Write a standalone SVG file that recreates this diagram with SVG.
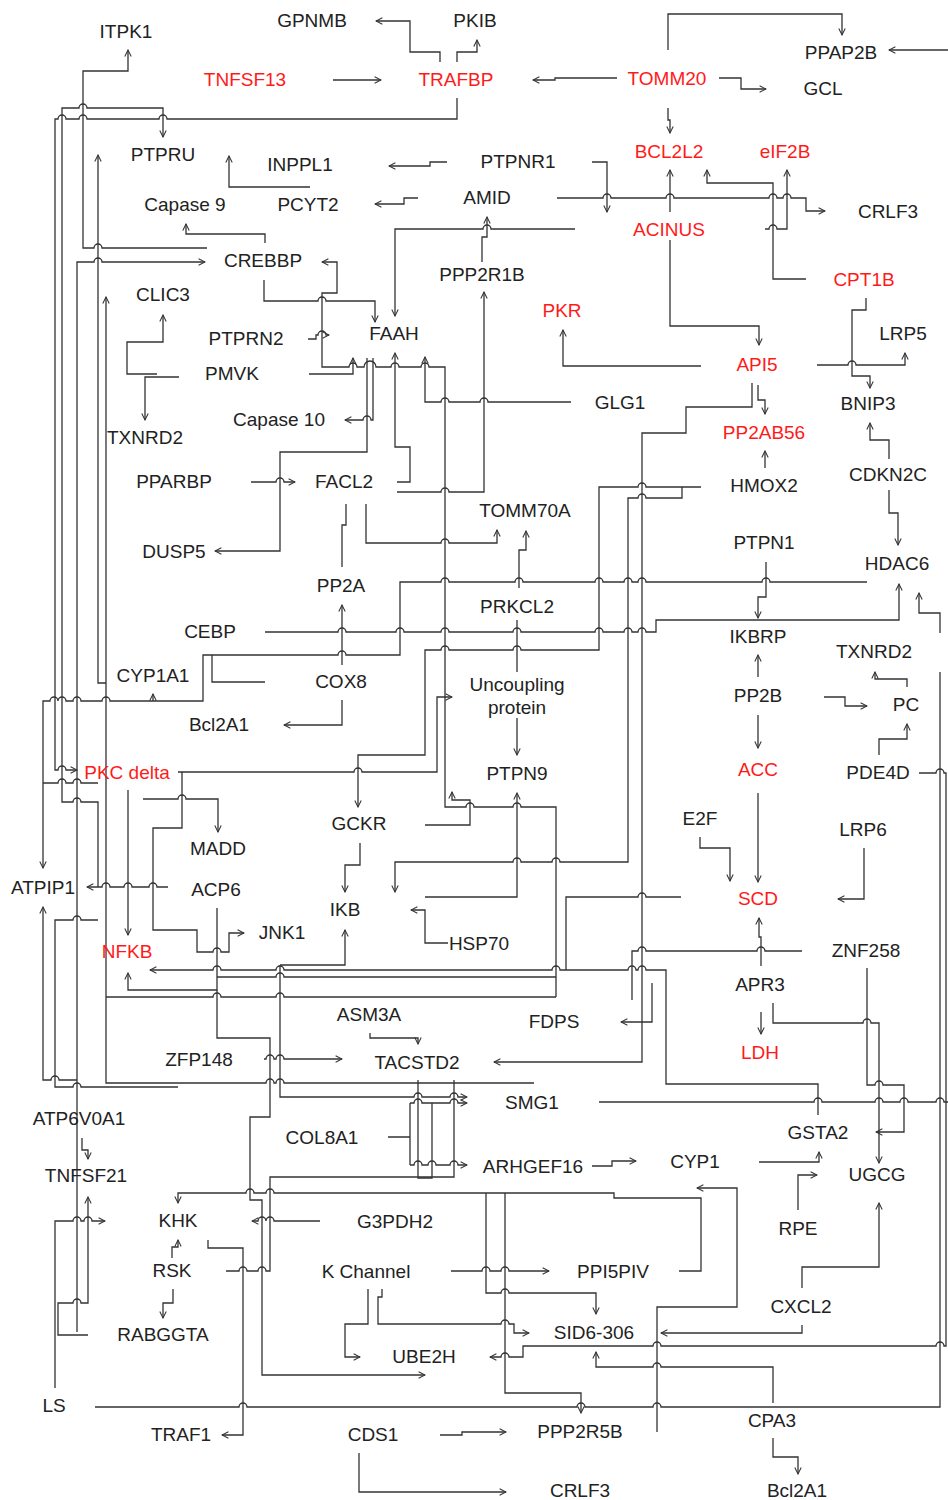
<svg xmlns="http://www.w3.org/2000/svg" width="948" height="1500" viewBox="0 0 948 1500">
<style>
text{font-family:"Liberation Sans",Arial,sans-serif;font-size:19px;fill:#222;text-anchor:middle}
text.r{fill:#ff1a1a}
#edges path{fill:none;stroke:#333;stroke-width:1.3}
#edges path.a{marker-end:url(#arr)}
</style>
<defs>
<marker id="arr" viewBox="0 0 10 10" refX="9" refY="5" markerWidth="8" markerHeight="8" markerUnits="userSpaceOnUse" orient="auto">
<path d="M1,1 L9,5 L1,9" fill="none" stroke="#333" stroke-width="1.3"/>
</marker>
</defs>
<rect width="948" height="1500" fill="#fff"/>
<g id="edges">
<path class="a" d="M440,62 V52 H410 V21 H376"/>
<path class="a" d="M457,62 V52 H477 V40"/>
<path class="a" d="M333,80 H381"/>
<path class="a" d="M617,78 H555 V80 H533"/>
<path class="a" d="M719,78 H741 V89 H766"/>
<path class="a" d="M668,50 V14 H842 V35"/>
<path class="a" d="M948,50 H889"/>
<path class="a" d="M668,108 V120 H670 V133"/>
<path class="a" d="M457,98 V119 H167 a4,4 0 0 0 -8,0 H87 a4,4 0 0 0 -8,0 H66 a4,4 0 0 0 -8,0 H55 V770 H58 a4,4 0 0 1 8,0 H77"/>
<path class="a" d="M98,887 V802 H81 a4,4 0 0 0 -8,0 H62 V108 H79 a4,4 0 0 1 8,0 H163 V137"/>
<path class="a" d="M207,248 H102 a4,4 0 0 0 -8,0 H83 V71 H128 V50"/>
<path class="a" d="M534,1083 H284 a4,4 0 0 0 -8,0 H274 a4,4 0 0 0 -8,0 H106 V297"/>
<path class="a" d="M106,683 H98 V155"/>
<path class="a" d="M77,1332 V262 H94 a4,4 0 0 1 8,0 H205"/>
<path class="a" d="M265,243 V234 H186 V224"/>
<path class="a" d="M310,187 H229 V156"/>
<path class="a" d="M447,162 H430 V166 H389"/>
<path class="a" d="M418,198 H404 V204 H375"/>
<path class="a" d="M575,229 H491 a4,4 0 0 0 -8,0 H395 V316"/>
<path class="a" d="M482,262 V237 H487 V217"/>
<path class="a" d="M397,492 H441 a4,4 0 0 1 8,0 H484 V292"/>
<path class="a" d="M592,162 H607 V212"/>
<path class="a" d="M557,198 H603 a4,4 0 0 1 8,0 H666 a4,4 0 0 1 8,0 H769 a4,4 0 0 1 8,0 H783 a4,4 0 0 1 8,0 H806 V211 H825"/>
<path class="a" d="M670,212 V170"/>
<path class="a" d="M765,229 H769 a4,4 0 0 1 8,0 H787 V170"/>
<path class="a" d="M806,279 H773 V183 H707 V170"/>
<path class="a" d="M670,240 V326 H759 V345"/>
<path class="a" d="M701,366 H563 V330"/>
<path class="a" d="M817,365 H848 a4,4 0 0 1 8,0 H905 V353"/>
<path class="a" d="M866,298 V310 H852 V376 H870 V388"/>
<path class="a" d="M889,459 V440 H870 V423"/>
<path class="a" d="M758,385 V400 H765 V414"/>
<path class="a" d="M752,383 V407 H686 V433 H642 V1062 H494"/>
<path class="a" d="M765,468 V451"/>
<path class="a" d="M889,490 V513 H898 V545"/>
<path class="a" d="M867,582 H770 a4,4 0 0 0 -8,0 H646 a4,4 0 0 0 -8,0 H632 a4,4 0 0 0 -8,0 H603 a4,4 0 0 0 -8,0 H523 a4,4 0 0 0 -8,0 H449 a4,4 0 0 0 -8,0 H400 V655 H346 a4,4 0 0 0 -8,0 H203 V701 H110 a4,4 0 0 0 -8,0 H81 a4,4 0 0 0 -8,0 H66 a4,4 0 0 0 -8,0 a4,4 0 0 0 -8,0 H43 V868"/>
<path class="a" d="M153,701 V694"/>
<path class="a" d="M265,632 H338 a4,4 0 0 1 8,0 H396 a4,4 0 0 1 8,0 H441 a4,4 0 0 1 8,0 H513 a4,4 0 0 1 8,0 H595 a4,4 0 0 1 8,0 H624 a4,4 0 0 1 8,0 H638 a4,4 0 0 1 8,0 H656 V620 H899 V584"/>
<path class="a" d="M342,665 V605"/>
<path d="M342,567 V525 H346 V504"/>
<path class="a" d="M366,504 V543 H441 a4,4 0 0 1 8,0 H497 V530"/>
<path class="a" d="M519,588 V550 H526 V531"/>
<path d="M265,682 H212 V655"/>
<path class="a" d="M342,700 V725 H284"/>
<path class="a" d="M701,487 H646 a4,4 0 0 0 -8,0 H599 V650 H521 a4,4 0 0 0 -8,0 H449 a4,4 0 0 0 -8,0 H425 V755 H358 V807"/>
<path class="a" d="M178,772 H354 a4,4 0 0 1 8,0 H437 V697 H452"/>
<path class="a" d="M143,799 H178 a4,4 0 0 1 8,0 H218 V832"/>
<path class="a" d="M128,790 V935"/>
<path class="a" d="M182,772 V828 H153 V930 H197 V952 H213 a4,4 0 0 1 8,0 H229 V933 H244"/>
<path class="a" d="M556,997 V807 H521 a4,4 0 0 0 -8,0 H474 a4,4 0 0 0 -8,0 H445 V367 H429 a4,4 0 0 0 -8,0 H399 a4,4 0 0 0 -8,0 H376 a6,6 0 0 0 -12,0 H357 a4,4 0 0 0 -8,0 H322 V293 H337 V262 H322"/>
<path class="a" d="M264,280 V301 H318 a4,4 0 0 1 8,0 H375 V322"/>
<path class="a" d="M308,339 H316 V335 H318 a4,4 0 0 1 8,0 H329"/>
<path class="a" d="M309,374 H353 V358"/>
<path class="a" d="M367,358 V452 H280 V551 H215"/>
<path class="a" d="M373,358 V420 H371 a4,4 0 0 0 -8,0 H345"/>
<path class="a" d="M397,482 H410 V447 H395 V353"/>
<path class="a" d="M571,402 H488 a4,4 0 0 0 -8,0 H449 a4,4 0 0 0 -8,0 H425 V357"/>
<path class="a" d="M251,482 H276 a4,4 0 0 1 8,0 H295"/>
<path class="a" d="M157,374 H127 V342 H163 V315"/>
<path class="a" d="M179,377 H145 V420"/>
<path class="a" d="M766,562 V597 H758 V618"/>
<path class="a" d="M758,677 V655"/>
<path class="a" d="M758,715 V748"/>
<path class="a" d="M824,697 H845 V706 H867"/>
<path class="a" d="M907,687 V679 H875 V672"/>
<path class="a" d="M879,755 V739 H907 V724"/>
<path class="a" d="M940,633 V613 H919 V593"/>
<path class="a" d="M517,620 V672 M517,718 V755"/>
<path class="a" d="M682,487 V498 H646 a4,4 0 0 0 -8,0 H628 V862 H560 a4,4 0 0 0 -8,0 H521 a4,4 0 0 0 -8,0 H395 V892"/>
<path class="a" d="M700,837 V848 H730 V881"/>
<path class="a" d="M758,793 V882"/>
<path class="a" d="M864,848 V899 H838"/>
<path class="a" d="M761,966 V937 H759 V918"/>
<path d="M802,951 H765 a4,4 0 0 0 -8,0 H646 a4,4 0 0 0 -8,0 H632 V1000"/>
<path d="M681,897 H646 a4,4 0 0 0 -8,0 H566 V970"/>
<path class="a" d="M919,773 H936 a4,4 0 0 1 8,0 H946 V1346 H944 a4,4 0 0 0 -8,0 H661 a4,4 0 0 0 -8,0 H523 V1357 H509 a4,4 0 0 0 -8,0 H490"/>
<path class="a" d="M425,825 H470 V800 H452 V792"/>
<path class="a" d="M360,843 V865 H345 V892"/>
<path class="a" d="M280,965 H345 V930"/>
<path class="a" d="M280,965 V1097 H414 a4,4 0 0 1 8,0 H450 a4,4 0 0 1 8,0 H467"/>
<path class="a" d="M448,943 H425 V910 H411"/>
<path class="a" d="M425,897 H517 V793"/>
<path class="a" d="M818,1115 V1084 H666 V970 H646 a4,4 0 0 0 -8,0 H636 a4,4 0 0 0 -8,0 H560 a4,4 0 0 0 -8,0 H284 a4,4 0 0 0 -8,0 H221 a4,4 0 0 0 -8,0 H150"/>
<path d="M217,977 H276 a4,4 0 0 1 8,0 H556"/>
<path d="M106,997 H213 a4,4 0 0 1 8,0 H276 a4,4 0 0 1 8,0 H556"/>
<path class="a" d="M217,908 V990 H128 V973"/>
<path class="a" d="M217,990 V1038 H270 V1117 H250 V1200 H262 V1375 H425"/>
<path d="M226,1271 H239 a4,4 0 0 1 8,0 H258 a4,4 0 0 1 8,0 H270 V1177 H454 V1080"/>
<path class="a" d="M208,1240 V1248 H243 V1435 H222"/>
<path class="a" d="M173,1289 V1303 H163 V1318"/>
<path class="a" d="M172,1258 V1247 H178 V1240"/>
<path class="a" d="M320,1221 H274 a4,4 0 0 0 -8,0 a4,4 0 0 0 -8,0 H252"/>
<path d="M95,1407 H239 a4,4 0 0 1 8,0 H577 a4,4 0 0 1 8,0 H653 a4,4 0 0 1 8,0 H940 V672"/>
<path class="a" d="M55,1388 V1221 H73 a4,4 0 0 1 8,0 H84 a4,4 0 0 1 8,0 H105"/>
<path class="a" d="M88,1335 H58 V1303 H73 a4,4 0 0 1 8,0 H88 V1197"/>
<path class="a" d="M82,1138 V1150 H88 V1159"/>
<path class="a" d="M77,1080 H59 a4,4 0 0 0 -8,0 H43 V907"/>
<path class="a" d="M368,1289 V1324 H345 V1357 H360"/>
<path class="a" d="M382,1289 V1297 H378 V1324 H501 a4,4 0 0 1 8,0 H514 V1333 H529"/>
<path class="a" d="M451,1271 H482 a4,4 0 0 1 8,0 H501 a4,4 0 0 1 8,0 H549"/>
<path class="a" d="M440,1435 H462 V1432 H506"/>
<path class="a" d="M359,1453 V1492 H506"/>
<path class="a" d="M486,1193 V1293 H501 a4,4 0 0 1 8,0 H596 V1314"/>
<path class="a" d="M505,1193 V1393 H581 V1413"/>
<path class="a" d="M679,1271 H701 V1198 H614 V1193 H274 a4,4 0 0 0 -8,0 H254 a4,4 0 0 0 -8,0 H178 V1203"/>
<path class="a" d="M657,1432 V1307 H737 V1188 H697"/>
<path class="a" d="M802,1325 V1333 H661"/>
<path class="a" d="M802,1288 V1267 H879 V1203"/>
<path class="a" d="M773,1403 V1367 H661 a4,4 0 0 0 -8,0 H596 V1352"/>
<path class="a" d="M773,1438 V1457 H798 V1474"/>
<path class="a" d="M652,983 V1022 H621"/>
<path class="a" d="M761,1012 V1034"/>
<path class="a" d="M773,1003 V1023 H863 a4,4 0 0 1 8,0 H879 V1163"/>
<path class="a" d="M867,968 V1085 H875 a4,4 0 0 1 8,0 H904 V1132 H876"/>
<path d="M599,1102 H814 a4,4 0 0 1 8,0 H875 a4,4 0 0 1 8,0 H900 a4,4 0 0 1 8,0 H936 a4,4 0 0 1 8,0 H948"/>
<path class="a" d="M759,1162 H819 V1152"/>
<path class="a" d="M592,1166 H612 V1161 H636"/>
<path class="a" d="M798,1210 V1175 H817"/>
<path class="a" d="M264,1059 H266 a4,4 0 0 1 8,0 H276 a4,4 0 0 1 8,0 H342"/>
<path class="a" d="M370,1033 V1038 H418 V1044"/>
<path d="M388,1137 H410 M410,1103 V1165 M418,1080 V1178 H432 V1103"/>
<path class="a" d="M410,1103 H414 a4,4 0 0 1 8,0 H450 a4,4 0 0 1 8,0 H467"/>
<path class="a" d="M410,1165 H414 a4,4 0 0 1 8,0 H428 a4,4 0 0 1 8,0 H450 a4,4 0 0 1 8,0 H467"/>
<path d="M43,783 H58 a4,4 0 0 1 8,0 H73 a4,4 0 0 1 8,0 H98"/>
<path class="a" d="M168,887 H157 a4,4 0 0 0 -8,0 H132 a4,4 0 0 0 -8,0 H110 a4,4 0 0 0 -8,0 H87"/>
<path d="M98,920 H81 a4,4 0 0 0 -8,0 H55 V1087 H73 a4,4 0 0 1 8,0 H178"/>
</g>
<g id="nodes">
<g id="n_ITPK1"><text x="126" y="38">ITPK1</text></g>
<g id="n_GPNMB"><text x="312" y="27">GPNMB</text></g>
<g id="n_PKIB"><text x="475" y="27">PKIB</text></g>
<g id="n_TNFSF13"><text class="r" x="245" y="86">TNFSF13</text></g>
<g id="n_TRAFBP"><text class="r" x="456" y="86">TRAFBP</text></g>
<g id="n_TOMM20"><text class="r" x="667" y="85">TOMM20</text></g>
<g id="n_PPAP2B"><text x="841" y="59">PPAP2B</text></g>
<g id="n_GCL"><text x="823" y="95">GCL</text></g>
<g id="n_PTPRU"><text x="163" y="161">PTPRU</text></g>
<g id="n_INPPL1"><text x="300" y="171">INPPL1</text></g>
<g id="n_PTPNR1"><text x="518" y="168">PTPNR1</text></g>
<g id="n_BCL2L2"><text class="r" x="669" y="158">BCL2L2</text></g>
<g id="n_eIF2B"><text class="r" x="785" y="158">eIF2B</text></g>
<g id="n_Capase9"><text x="185" y="211">Capase 9</text></g>
<g id="n_PCYT2"><text x="308" y="211">PCYT2</text></g>
<g id="n_AMID"><text x="487" y="204">AMID</text></g>
<g id="n_CRLF3a"><text x="888" y="218">CRLF3</text></g>
<g id="n_ACINUS"><text class="r" x="669" y="236">ACINUS</text></g>
<g id="n_CREBBP"><text x="263" y="267">CREBBP</text></g>
<g id="n_PPP2R1B"><text x="482" y="281">PPP2R1B</text></g>
<g id="n_CPT1B"><text class="r" x="864" y="286">CPT1B</text></g>
<g id="n_CLIC3"><text x="163" y="301">CLIC3</text></g>
<g id="n_PKR"><text class="r" x="562" y="317">PKR</text></g>
<g id="n_PTPRN2"><text x="246" y="345">PTPRN2</text></g>
<g id="n_FAAH"><text x="394" y="340">FAAH</text></g>
<g id="n_LRP5"><text x="903" y="340">LRP5</text></g>
<g id="n_API5"><text class="r" x="757" y="371">API5</text></g>
<g id="n_PMVK"><text x="232" y="380">PMVK</text></g>
<g id="n_BNIP3"><text x="868" y="410">BNIP3</text></g>
<g id="n_GLG1"><text x="620" y="409">GLG1</text></g>
<g id="n_Capase10"><text x="279" y="426">Capase 10</text></g>
<g id="n_TXNRD2a"><text x="145" y="444">TXNRD2</text></g>
<g id="n_PP2AB56"><text class="r" x="764" y="439">PP2AB56</text></g>
<g id="n_PPARBP"><text x="174" y="488">PPARBP</text></g>
<g id="n_FACL2"><text x="344" y="488">FACL2</text></g>
<g id="n_HMOX2"><text x="764" y="492">HMOX2</text></g>
<g id="n_CDKN2C"><text x="888" y="481">CDKN2C</text></g>
<g id="n_TOMM70A"><text x="525" y="517">TOMM70A</text></g>
<g id="n_PTPN1"><text x="764" y="549">PTPN1</text></g>
<g id="n_DUSP5"><text x="174" y="558">DUSP5</text></g>
<g id="n_HDAC6"><text x="897" y="570">HDAC6</text></g>
<g id="n_PP2A"><text x="341" y="592">PP2A</text></g>
<g id="n_PRKCL2"><text x="517" y="613">PRKCL2</text></g>
<g id="n_CEBP"><text x="210" y="638">CEBP</text></g>
<g id="n_IKBRP"><text x="758" y="643">IKBRP</text></g>
<g id="n_TXNRD2b"><text x="874" y="658">TXNRD2</text></g>
<g id="n_CYP1A1"><text x="153" y="682">CYP1A1</text></g>
<g id="n_COX8"><text x="341" y="688">COX8</text></g>
<g id="n_Uncoupling"><text x="517" y="691">Uncoupling</text><text x="517" y="714">protein</text></g>
<g id="n_PP2B"><text x="758" y="702">PP2B</text></g>
<g id="n_PC"><text x="906" y="711">PC</text></g>
<g id="n_Bcl2A1a"><text x="219" y="731">Bcl2A1</text></g>
<g id="n_PKCdelta"><text class="r" x="127" y="779">PKC delta</text></g>
<g id="n_PTPN9"><text x="517" y="780">PTPN9</text></g>
<g id="n_ACC"><text class="r" x="758" y="776">ACC</text></g>
<g id="n_PDE4D"><text x="878" y="779">PDE4D</text></g>
<g id="n_GCKR"><text x="359" y="830">GCKR</text></g>
<g id="n_E2F"><text x="700" y="825">E2F</text></g>
<g id="n_LRP6"><text x="863" y="836">LRP6</text></g>
<g id="n_MADD"><text x="218" y="855">MADD</text></g>
<g id="n_ATPIP1"><text x="43" y="894">ATPIP1</text></g>
<g id="n_ACP6"><text x="216" y="896">ACP6</text></g>
<g id="n_IKB"><text x="345" y="916">IKB</text></g>
<g id="n_SCD"><text class="r" x="758" y="905">SCD</text></g>
<g id="n_JNK1"><text x="282" y="939">JNK1</text></g>
<g id="n_HSP70"><text x="479" y="950">HSP70</text></g>
<g id="n_NFKB"><text class="r" x="127" y="958">NFKB</text></g>
<g id="n_ZNF258"><text x="866" y="957">ZNF258</text></g>
<g id="n_APR3"><text x="760" y="991">APR3</text></g>
<g id="n_ASM3A"><text x="369" y="1021">ASM3A</text></g>
<g id="n_FDPS"><text x="554" y="1028">FDPS</text></g>
<g id="n_LDH"><text class="r" x="760" y="1059">LDH</text></g>
<g id="n_ZFP148"><text x="199" y="1066">ZFP148</text></g>
<g id="n_TACSTD2"><text x="417" y="1069">TACSTD2</text></g>
<g id="n_SMG1"><text x="532" y="1109">SMG1</text></g>
<g id="n_ATP6V0A1"><text x="79" y="1125">ATP6V0A1</text></g>
<g id="n_GSTA2"><text x="818" y="1139">GSTA2</text></g>
<g id="n_COL8A1"><text x="322" y="1144">COL8A1</text></g>
<g id="n_ARHGEF16"><text x="533" y="1173">ARHGEF16</text></g>
<g id="n_CYP1"><text x="695" y="1168">CYP1</text></g>
<g id="n_TNFSF21"><text x="86" y="1182">TNFSF21</text></g>
<g id="n_UGCG"><text x="877" y="1181">UGCG</text></g>
<g id="n_KHK"><text x="178" y="1227">KHK</text></g>
<g id="n_G3PDH2"><text x="395" y="1228">G3PDH2</text></g>
<g id="n_RPE"><text x="798" y="1235">RPE</text></g>
<g id="n_RSK"><text x="172" y="1277">RSK</text></g>
<g id="n_KChannel"><text x="366" y="1278">K Channel</text></g>
<g id="n_PPI5PIV"><text x="613" y="1278">PPI5PIV</text></g>
<g id="n_CXCL2"><text x="801" y="1313">CXCL2</text></g>
<g id="n_RABGGTA"><text x="163" y="1341">RABGGTA</text></g>
<g id="n_SID6"><text x="594" y="1339">SID6-306</text></g>
<g id="n_UBE2H"><text x="424" y="1363">UBE2H</text></g>
<g id="n_LS"><text x="54" y="1412">LS</text></g>
<g id="n_CPA3"><text x="772" y="1427">CPA3</text></g>
<g id="n_TRAF1"><text x="181" y="1441">TRAF1</text></g>
<g id="n_CDS1"><text x="373" y="1441">CDS1</text></g>
<g id="n_PPP2R5B"><text x="580" y="1438">PPP2R5B</text></g>
<g id="n_CRLF3b"><text x="580" y="1497">CRLF3</text></g>
<g id="n_Bcl2A1b"><text x="797" y="1497">Bcl2A1</text></g>
</g>
</svg>
